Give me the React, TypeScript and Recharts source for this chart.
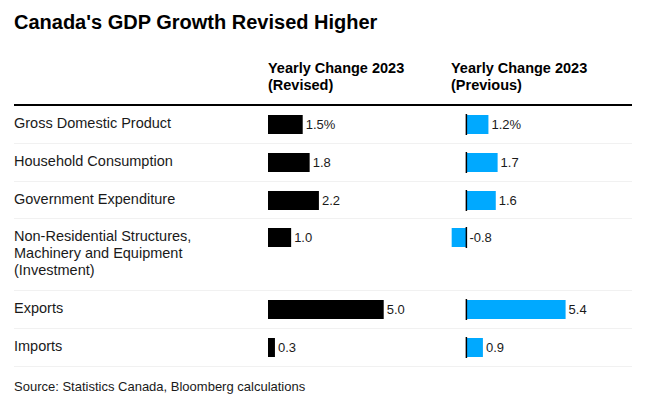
import { Bar, BarChart, LabelList, ReferenceLine, XAxis, YAxis } from "recharts";

const categories = [
  "Gross Domestic Product",
  "Household Consumption",
  "Government Expenditure",
  "Non-Residential Structures,\nMachinery and Equipment\n(Investment)",
  "Exports",
  "Imports",
];
const revised = [1.5, 1.8, 2.2, 1.0, 5.0, 0.3];
const previous = [1.2, 1.7, 1.6, -0.8, 5.4, 0.9];
const headers = ["Yearly Change 2023\n(Revised)", "Yearly Change 2023\n(Previous)"];

const FONT = "'Liberation Sans', Arial, Helvetica, sans-serif";
const BLUE = "#00A9FF";
const ROW_HEIGHTS = [38, 38, 37, 72, 38, 38];

function ValueLabel(props: any) {
  const { x, y, width, height, value, first } = props;
  const end = Math.max(Number(x), Number(x) + Number(width));
  const txt = Number(value).toFixed(1) + (first ? "%" : "");
  return (
    <text
      x={end + 3}
      y={Number(y) + Number(height) / 2}
      dominantBaseline="central"
      fontSize={13}
      fontFamily={FONT}
      fill="#1a1a1a"
    >
      {txt}
    </text>
  );
}

function MiniBar({
  name,
  value,
  color,
  domain,
  plotWidth,
  zeroLine,
  first,
}: {
  name: string;
  value: number;
  color: string;
  domain: [number, number];
  plotWidth: number;
  zeroLine: boolean;
  first: boolean;
}) {
  const data = [{ name, value }];
  return (
    <BarChart
      width={plotWidth + 45}
      height={37}
      data={data}
      layout="vertical"
      margin={{ top: 8, right: 45, bottom: 8, left: 0 }}
      style={{ overflow: "visible" }}
    >
      <XAxis type="number" domain={domain} hide allowDataOverflow />
      <YAxis type="category" dataKey="name" hide />
      <Bar dataKey="value" fill={color} barSize={19} isAnimationActive={false}>
        <LabelList
          dataKey="value"
          content={(p: any) => <ValueLabel {...p} first={first} />}
        />
      </Bar>
      {zeroLine && <ReferenceLine x={0} stroke="#000" strokeWidth={1.5} />}
    </BarChart>
  );
}

export default function App() {
  return (
    <div
      style={{
        position: "relative",
        width: 645,
        height: 410,
        background: "#fff",
        fontFamily: FONT,
        color: "#1a1a1a",
        overflow: "hidden",
      }}
    >
      <style>{`body{margin:0}`}</style>
      <div
        style={{
          position: "absolute",
          left: 14,
          top: 10,
          fontSize: 20,
          lineHeight: "24px",
          fontWeight: 700,
          color: "#000",
        }}
      >
        Canada's GDP Growth Revised Higher
      </div>
      {headers.map((h, i) => (
        <div
          key={h + i}
          style={{
            position: "absolute",
            left: i === 0 ? 268 : 451,
            top: 60,
            fontSize: 14.5,
            lineHeight: "17px",
            fontWeight: 700,
            whiteSpace: "pre-line",
            color: "#000",
          }}
        >
          {h}
        </div>
      ))}
      <div style={{ position: "absolute", left: 14, top: 104, width: 618, height: 2, background: "#000" }} />
      <div style={{ position: "absolute", left: 0, top: 106, width: 645 }}>
        {categories.map((c, i) => (
          <div key={c} style={{ position: "relative", height: ROW_HEIGHTS[i] }}>
            <div
              style={{
                position: "absolute",
                left: 14,
                top: 9,
                fontSize: 14.5,
                lineHeight: "17px",
                whiteSpace: "pre-line",
              }}
            >
              {c}
            </div>
            <div style={{ position: "absolute", left: 268, top: 0 }}>
              <MiniBar
                name={c}
                value={revised[i]}
                color="#000"
                domain={[0, 7]}
                plotWidth={162}
                zeroLine={false}
                first={i === 0}
              />
            </div>
            <div style={{ position: "absolute", left: 448, top: 0 }}>
              <MiniBar
                name={c}
                value={previous[i]}
                color={BLUE}
                domain={[-1, 7]}
                plotWidth={147}
                zeroLine={true}
                first={i === 0}
              />
            </div>
            <div
              style={{
                position: "absolute",
                left: 14,
                bottom: 0,
                width: 618,
                height: 1,
                background: "#f1f1f1",
              }}
            />
          </div>
        ))}
      </div>
      <div style={{ position: "absolute", left: 14, top: 379, fontSize: 13, lineHeight: "16px" }}>
        Source: Statistics Canada, Bloomberg calculations
      </div>
    </div>
  );
}
